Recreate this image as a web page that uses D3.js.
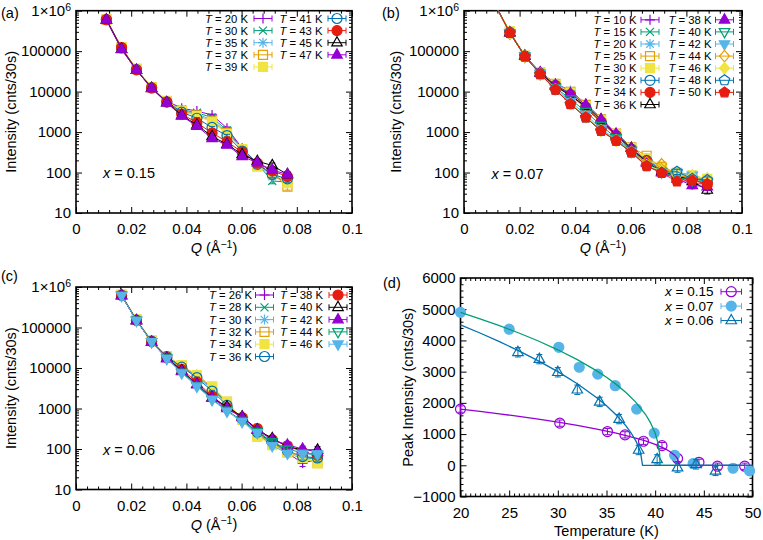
<!DOCTYPE html>
<html><head><meta charset="utf-8">
<script src="https://cdn.jsdelivr.net/npm/d3@7"></script>
<style>
body{margin:0;background:#fff}
svg{display:block}
text{font-family:"Liberation Sans",Arial,Helvetica,sans-serif;fill:#000}
</style>
</head><body>
<svg id="chart" width="763" height="540"></svg>
<script>
// ---------------- DATA ----------------
// Panel (a): x = 0.15
const QA = [0.0110,0.0165,0.0219,0.0274,0.0329,0.0383,0.0438,0.0493,0.0547,0.0602,0.0657,0.0711,0.0766];
const TA = [20,30,35,37,39,41,43,45,47];
const a20 = [600000,120000,35000,12500,5800,3900,3300,2650,1250,400,170,90,55];
const a30 = [610000,118000,35500,12600,5700,3600,3000,2300,1100,390,165,62,58];
const a35 = [605000,121000,36000,12700,5700,3500,2800,2000,1000,380,160,80,60];
const a37 = [600000,122000,36500,12800,5800,3400,2600,1850,950,370,150,95,45];
const a39 = [610000,124000,36000,12700,5900,3300,2500,1800,900,380,140,100,55];
const a41 = [605000,120000,35000,12400,5600,3100,2200,1300,820,340,160,90,70];
const a43 = [600000,123000,34500,12300,5500,2800,1700,950,580,320,170,110,80];
const a45 = [595000,112000,34000,12200,5400,2600,1500,780,500,280,190,150,90];
const a47 = [590000,110000,34000,12000,5300,2500,1400,700,480,250,175,115,90];
const errA = [0.01,0.01,0.01,0.015,0.02,0.03,0.04,0.05,0.07,0.1,0.12,0.15,0.18];

// Panel (b): x = 0.07
const QB = [0.0110,0.0165,0.0219,0.0274,0.0329,0.0383,0.0438,0.0493,0.0547,0.0602,0.0657,0.0711,0.0766,0.0821,0.0875];
const TB = [10,15,20,25,30,32,34,36,38,40,42,44,46,48,50];
const b10 = [1500000,295000,78000,30000,16000,10500,5000,2200,950,430,210,120,85,50,55];
const b15 = [1500000,290000,77000,29500,15800,10400,4900,2150,940,420,205,115,90,70,60];
const b20 = [1500000,285000,76000,29000,15700,10300,4950,2200,930,410,200,125,100,90,65];
const b25 = [1500000,300000,77000,29500,15500,9900,4700,2050,920,420,260,130,95,80,60];
const b30 = [1500000,310000,78000,30000,15000,9500,4400,1950,880,400,220,140,100,85,70];
const b32 = [1500000,290000,76000,28500,14200,8500,4100,1800,830,380,200,110,90,75,65];
const b34 = [1500000,280000,75000,28000,14000,8200,3900,1750,820,370,190,100,80,70,50];
const b36 = [1500000,285000,76000,29000,13600,7900,4400,2000,860,400,180,105,85,60,37];
const b38 = [1500000,285000,76000,29500,14500,9000,4700,2050,900,400,170,100,70,48,45];
const b40 = [1500000,280000,75000,28000,12500,6500,3200,1450,720,350,170,105,75,65,55];
const b42 = [1500000,275000,74000,27500,11800,5600,2700,1200,660,330,160,100,100,85,60];
const b44 = [1500000,280000,74000,27000,11300,5100,2400,1100,620,320,180,160,85,75,65];
const b46 = [1500000,280000,75000,27500,11200,5000,2350,1090,615,320,150,110,90,80,72];
const b48 = [1500000,285000,74500,27000,11200,4950,2300,1080,610,315,145,100,105,70,65];
const b50 = [1500000,280000,74000,27000,11100,4900,2300,1070,610,315,143,98,60,64,52];
const errB = [0.01,0.01,0.01,0.01,0.015,0.02,0.03,0.04,0.05,0.07,0.1,0.12,0.15,0.17,0.2];

// Panel (c): x = 0.06
const QC = [0.0165,0.0219,0.0274,0.0329,0.0383,0.0438,0.0493,0.0547,0.0602,0.0657,0.0711,0.0766,0.0821,0.0875];
const TC = [26,28,30,32,34,36,38,40,42,44,46];
const c26 = [640000,155000,46000,19000,11000,6800,3400,1400,560,240,150,80,45,55];
const c28 = [630000,152000,45000,18500,10800,6500,3200,1350,540,230,140,85,55,60];
const c30 = [625000,150000,45000,18000,10500,6200,3000,1300,520,220,130,80,60,65];
const c32 = [640000,155000,47000,19500,11500,6500,3300,1450,550,230,140,85,60,45];
const c34 = [650000,158000,48000,19800,11800,6700,3500,1480,520,200,125,80,60,45];
const c36 = [630000,152000,46000,19000,10500,5800,2700,1200,560,260,150,90,65,60];
const c38 = [620000,150000,45000,18000,9200,4500,2000,1050,600,320,170,120,85,70];
const c40 = [620000,150000,44000,17500,8600,4000,1850,1100,630,300,183,115,95,95];
const c42 = [615000,148000,44000,17000,8200,3900,1800,1000,600,290,170,126,100,85];
const c44 = [620000,150000,44500,17500,7800,3700,1700,900,500,270,150,100,80,70];
const c46 = [615000,148000,44000,17000,7500,3500,1650,850,470,250,120,78,75,75];
const errC = [0.01,0.01,0.01,0.015,0.02,0.03,0.04,0.05,0.07,0.1,0.12,0.15,0.18,0.2];

// Panel (d): peak intensity vs temperature
const dT15 = [20,30.2,35.1,36.9,38.8,40.7,42.3,44.5,46.4,49.2];
const dI15 = [1800,1350,1080,975,770,630,220,95,-30,-30];
const dE15 = [100,100,100,100,100,100,100,100,100,100];
const dT07 = [20,25,30.1,32.2,34.1,35.9,38.1,39.9,42.0,43.9,48.0,49.7];
const dI07 = [4900,4360,3780,3140,2920,2550,1800,1030,320,55,-95,-180];
const dE07 = [80,80,80,80,80,80,80,80,80,80,80,80];
const dT06 = [25.9,28.1,30.0,32.0,34.3,36.3,38.3,40.2,42.3,44.2,46.2];
const dI06 = [3620,3400,2980,2420,2030,1480,490,190,-75,30,-180];
const dE06 = [150,150,150,150,150,150,150,150,150,150,150];
// fitted curves
const fitT15 = [20,22,24,26,28,30,32,34,36,38,39,40,41,41.5,42,42.3,42.5,50];
const fitI15 = [1800,1726,1649,1566,1477,1380,1277,1162,1029,873,779,670,532,443,325,215,0,0];
const fitT07 = [20,22,24,26,28,30,32,34,35,36,37,38,39,39.5,40,40.3,40.45,40.5,50];
const fitI07 = [4900,4694,4473,4238,3981,3700,3385,3025,2820,2592,2332,2025,1634,1377,1030,700,392,0,0];
const fitT06 = [20,22,24,26,28,30,32,34,35,36,37,37.5,38,38.3,38.5,38.7,50];
const fitI06 = [4500,4238,3961,3666,3347,3000,2612,2165,1908,1614,1265,1050,789,586,406,0,0];

// tick labels
const qTicks = [0,0.02,0.04,0.06,0.08,0.1];
const logTicks = [10,100,1000,10000,100000,1000000];
const tTicks = [20,25,30,35,40,45,50];
const pTicks = [-1000,0,1000,2000,3000,4000,5000,6000];
const dLegend = ["0.15","0.07","0.06"];

// ---------------- STYLE ----------------
const palette = ["#9400d3","#009e73","#56b4e9","#e69f00","#f0e442","#0072b2","#e51e10","#000000"];
const shapes = ["plus","cross","star","square","squareF","circle","circleF","tri","triF","triD","triDF","dia","diaF","pent","pentF"];
const TICK_FS = 15, LABEL_FS = 14.5;

const svg = d3.select("#chart");

function shapePath(base, x, y) {
  const r = 5;
  switch (base) {
    case "plus": return `M${x-r},${y}H${x+r}M${x},${y-r}V${y+r}`;
    case "cross": { const s = r*0.8; return `M${x-s},${y-s}L${x+s},${y+s}M${x-s},${y+s}L${x+s},${y-s}`; }
    case "star": { const s = r*0.75; return `M${x-r},${y}H${x+r}M${x},${y-r}V${y+r}M${x-s},${y-s}L${x+s},${y+s}M${x-s},${y+s}L${x+s},${y-s}`; }
    case "square": { const s = r*0.9; return `M${x-s},${y-s}H${x+s}V${y+s}H${x-s}Z`; }
    case "circle": { const p = d3.path(); p.moveTo(x+r,y); p.arc(x,y,r,0,2*Math.PI); p.closePath(); return p.toString(); }
    case "tri": return `M${x},${y-r*1.2}L${x+r*1.05},${y+r*0.65}L${x-r*1.05},${y+r*0.65}Z`;
    case "triD": return `M${x},${y+r*1.2}L${x+r*1.05},${y-r*0.65}L${x-r*1.05},${y-r*0.65}Z`;
    case "dia": return `M${x},${y-r*1.15}L${x+r},${y}L${x},${y+r*1.15}L${x-r},${y}Z`;
    case "pent": {
      const pts = d3.range(5).map(k => { const a = -Math.PI/2 + k*2*Math.PI/5; return [x + r*1.1*Math.cos(a), y + r*1.1*Math.sin(a)]; });
      return "M" + pts.map(p => p.join(",")).join("L") + "Z";
    }
  }
}
function drawMarker(g, shape, x, y, color) {
  const filled = shape.endsWith("F");
  const base = filled ? shape.slice(0, -1) : shape;
  g.append("path").attr("d", shapePath(base, x, y))
    .attr("fill", filled ? color : "none")
    .attr("stroke", color).attr("stroke-width", 1.2);
}
function errorBar(g, x, yLo, yHi, color) {
  g.append("path").attr("d", `M${x},${yLo}V${yHi}M${x-3},${yLo}H${x+3}M${x-3},${yHi}H${x+3}`)
    .attr("stroke", color).attr("stroke-width", 1).attr("fill", "none");
}
function legendSample(g, x0, x1, y, color, shape) {
  g.append("path").attr("d", `M${x0},${y}H${x1}M${x0},${y-3}V${y+3}M${x1},${y-3}V${y+3}`)
    .attr("stroke", color).attr("stroke-width", 1).attr("fill", "none");
  drawMarker(g, shape, (x0+x1)/2, y, color);
}

function styleAxis(g) {
  g.select(".domain").remove();
  g.selectAll(".tick line").attr("stroke", "#000").attr("stroke-width", 1);
  g.selectAll(".tick text").attr("font-size", TICK_FS).attr("font-family", '"Liberation Sans",Arial,sans-serif').attr("fill", "#000");
}

function frame(p, x, y, xMajor, yMajor, xMinor, yMinor, xFmt, yFmt) {
  const g = svg.append("g");
  const mk = (axis, tr, vals, size) => {
    const a = g.append("g").attr("transform", tr).call(axis.tickValues(vals).tickSizeInner(-size).tickSizeOuter(0).tickFormat(""));
    styleAxis(a);
  };
  mk(d3.axisBottom(x), `translate(0,${p.y1})`, xMinor, 3);
  mk(d3.axisTop(x), `translate(0,${p.y0})`, xMinor, 3);
  mk(d3.axisLeft(y), `translate(${p.x0},0)`, yMinor, 3);
  mk(d3.axisRight(y), `translate(${p.x1},0)`, yMinor, 3);
  mk(d3.axisTop(x), `translate(0,${p.y0})`, xMajor, 6);
  mk(d3.axisRight(y), `translate(${p.x1},0)`, yMajor, 6);
  const bx = g.append("g").attr("transform", `translate(0,${p.y1})`)
    .call(d3.axisBottom(x).tickValues(xMajor).tickSizeInner(-6).tickSizeOuter(0).tickPadding(10.5).tickFormat(xFmt));
  styleAxis(bx);
  const ly = g.append("g").attr("transform", `translate(${p.x0},0)`)
    .call(d3.axisLeft(y).tickValues(yMajor).tickSizeInner(-6).tickSizeOuter(0).tickPadding(5).tickFormat(yFmt));
  styleAxis(ly);
  g.append("rect").attr("x", p.x0).attr("y", p.y0).attr("width", p.x1 - p.x0).attr("height", p.y1 - p.y0)
    .attr("fill", "none").attr("stroke", "#000").attr("stroke-width", 1.6);
  return ly;
}

function logPanel(p) {
  const x = d3.scaleLinear().domain([0, 0.1]).range([p.x0, p.x1]);
  const y = d3.scaleLog().domain([10, 1e6]).range([p.y1, p.y0]);
  const xMinor = d3.range(0, 0.1001, 0.004).filter(v => !qTicks.some(t => Math.abs(t - v) < 1e-9));
  const yMinor = y.ticks().filter(v => !logTicks.includes(v));
  const ly = frame(p, x, y, qTicks, logTicks, xMinor, yMinor, d3.format("~g"), d => d >= 1e6 ? "" : String(d));
  ly.selectAll(".tick").filter(d => d >= 1e6).select("text").each(function () {
    const t = d3.select(this);
    t.append("tspan").text("1×10");
    t.append("tspan").attr("font-size", 10.5).attr("dy", "-0.5em").text("6");
  });

  const clipId = "clip" + p.id;
  svg.append("clipPath").attr("id", clipId).append("rect")
    .attr("x", p.x0).attr("y", p.y0).attr("width", p.x1 - p.x0).attr("height", p.y1 - p.y0);
  const dg = svg.append("g").attr("clip-path", `url(#${clipId})`);
  const line = d3.line().x(d => x(d[0])).y(d => y(d[1]));
  p.series.forEach((vals, k) => {
    const color = palette[k % 8], shape = shapes[k];
    const pts = p.Q.map((q, i) => [q, vals[i], p.err[i]]);
    const sg = dg.append("g");
    sg.append("path").attr("d", line(pts)).attr("fill", "none").attr("stroke", color).attr("stroke-width", 1);
    pts.forEach(d => errorBar(sg, x(d[0]), y(d[1] * (1 - d[2])), y(d[1] * (1 + d[2])), color));
    pts.forEach(d => drawMarker(sg, shape, x(d[0]), y(d[1]), color));
  });

  const lg = svg.append("g");
  p.T.forEach((T, k) => {
    const col = k < p.nrows ? 0 : 1;
    const row = col === 0 ? k : k - p.nrows;
    const yy = p.ly + row * p.lstep;
    const t = lg.append("text").attr("x", p.ltx[col]).attr("y", yy + 4).attr("text-anchor", "end").attr("font-size", 11.3);
    t.append("tspan").attr("font-style", "italic").text("T");
    t.append("tspan").text(` = ${T} K`);
    legendSample(lg, p.lsx[col], p.lsx[col] + 18, yy, palette[k % 8], shapes[k]);
  });

  const cx = (p.x0 + p.x1) / 2;
  const xl = svg.append("text").attr("x", cx).attr("y", p.y1 + 40).attr("text-anchor", "middle").attr("font-size", LABEL_FS);
  xl.append("tspan").attr("font-style", "italic").text("Q");
  xl.append("tspan").text(" (Å");
  xl.append("tspan").attr("font-size", 10.5).attr("dy", "-0.5em").text("−1");
  xl.append("tspan").attr("dy", "0.36em").text(")");
  svg.append("text").attr("transform", `translate(${p.ylx},${(p.y0 + p.y1) / 2}) rotate(-90)`)
    .attr("text-anchor", "middle").attr("font-size", LABEL_FS).text("Intensity (cnts/30s)");
  const ann = svg.append("text").attr("x", p.annx).attr("y", p.anny).attr("font-size", LABEL_FS);
  ann.append("tspan").attr("font-style", "italic").text("x");
  ann.append("tspan").text(" = " + p.xval);
  svg.append("text").attr("x", p.px).attr("y", p.py).attr("font-size", LABEL_FS).text(p.tag);
}

logPanel({id: "a", tag: "(a)", px: 1, py: 18, x0: 76, x1: 352, y0: 10.7, y1: 213,
  Q: QA, T: TA, series: [a20, a30, a35, a37, a39, a41, a43, a45, a47], err: errA,
  nrows: 5, ly: 18.5, lstep: 12.1, ltx: [248, 322.5], lsx: [254, 328],
  ylx: 16, annx: 103, anny: 178, xval: "0.15"});
logPanel({id: "b", tag: "(b)", px: 382, py: 18, x0: 464, x1: 742, y0: 10.7, y1: 213,
  Q: QB, T: TB, series: [b10, b15, b20, b25, b30, b32, b34, b36, b38, b40, b42, b44, b46, b48, b50], err: errB,
  nrows: 8, ly: 19.8, lstep: 12.1, ltx: [636.5, 711.5], lsx: [641, 715.5],
  ylx: 401, annx: 491.5, anny: 179, xval: "0.07"});
logPanel({id: "c", tag: "(c)", px: 1, py: 281, x0: 76, x1: 352, y0: 287, y1: 489.5,
  Q: QC, T: TC, series: [c26, c28, c30, c32, c34, c36, c38, c40, c42, c44, c46], err: errC,
  nrows: 6, ly: 295, lstep: 12.3, ltx: [252, 323], lsx: [255.5, 329],
  ylx: 16, annx: 103, anny: 455, xval: "0.06"});

// ---------------- PANEL D ----------------
(function () {
  const p = {x0: 460.5, x1: 752.5, y0: 278, y1: 496.5};
  const x = d3.scaleLinear().domain([20, 50]).range([p.x0, p.x1]);
  const y = d3.scaleLinear().domain([-1000, 6000]).range([p.y1, p.y0]);
  const xMinor = d3.range(20, 50.01, 0.5).filter(v => !tTicks.includes(v));
  const yMinor = d3.range(-1000, 6001, 200).filter(v => !pTicks.includes(v));
  frame(p, x, y, tTicks, pTicks, xMinor, yMinor, d3.format("d"), d3.format("d"));

  const g = svg.append("g");
  const line = d3.line().x(d => x(d[0])).y(d => y(d[1]));
  const sets = [
    {T: dT15, I: dI15, E: dE15, fT: fitT15, fI: fitI15, pc: palette[0], lc: palette[0], shape: "circle"},
    {T: dT07, I: dI07, E: dE07, fT: fitT07, fI: fitI07, pc: palette[2], lc: palette[1], shape: "circleF"},
    {T: dT06, I: dI06, E: dE06, fT: fitT06, fI: fitI06, pc: palette[5], lc: palette[5], shape: "tri"}
  ];
  sets.forEach(s => {
    s.T.forEach((t, i) => errorBar(g, x(t), y(s.I[i] - s.E[i]), y(s.I[i] + s.E[i]), s.pc));
    s.T.forEach((t, i) => drawMarker(g, s.shape, x(t), y(s.I[i]), s.pc));
  });
  sets.forEach(s => {
    g.append("path").attr("d", line(s.fT.map((t, i) => [t, s.fI[i]])))
      .attr("fill", "none").attr("stroke", s.lc).attr("stroke-width", 1.3);
  });
  sets.forEach((s, k) => {
    const yy = 291.7 + k * 14.4;
    const t = svg.append("text").attr("x", 713.5).attr("y", yy + 4.5).attr("text-anchor", "end").attr("font-size", 13.5);
    t.append("tspan").attr("font-style", "italic").text("x");
    t.append("tspan").text(" = " + dLegend[k]);
    legendSample(svg, 721, 741.5, yy, s.pc, s.shape);
  });
  svg.append("text").attr("x", (p.x0 + p.x1) / 2).attr("y", p.y1 + 39).attr("text-anchor", "middle")
    .attr("font-size", LABEL_FS).text("Temperature (K)");
  svg.append("text").attr("transform", `translate(413,${(p.y0 + p.y1) / 2}) rotate(-90)`)
    .attr("text-anchor", "middle").attr("font-size", LABEL_FS).text("Peak Intensity (cnts/30s)");
  svg.append("text").attr("x", 383).attr("y", 288).attr("font-size", LABEL_FS).text("(d)");
})();
</script>
</body></html>
